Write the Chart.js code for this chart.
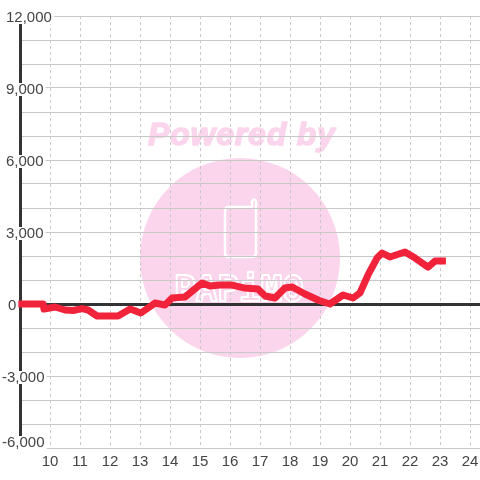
<!DOCTYPE html>
<html>
<head>
<meta charset="utf-8">
<title>chart</title>
<style>
    html, body { margin: 0; padding: 0; background: #fff; }
    canvas { display: block; }
</style>
<script src="https://cdn.jsdelivr.net/npm/chart.js@4/dist/chart.umd.min.js"></script>
</head>
<body>
<canvas id="slumpChart" width="480" height="480"></canvas>
<script>
// Values
const hours = [9, 9.77, 9.8, 10.17, 10.5, 10.77, 11.07, 11.27, 11.57, 12.27, 12.67, 13.03, 13.5, 13.83, 14.07, 14.5, 15.07, 15.33, 15.67, 16.07, 16.5, 16.93, 17.17, 17.5, 17.83, 18.07, 18.5, 18.97, 19.33, 19.77, 20.1, 20.33, 20.6, 20.9, 21.07, 21.33, 21.83, 22.17, 22.6, 22.83, 23.08];
const balance = [0, 0, -210, -125, -250, -270, -190, -250, -500, -500, -210, -375, 40, -40, 250, 290, 875, 750, 790, 790, 665, 625, 335, 250, 665, 710, 415, 145, 0, 375, 250, 460, 1210, 1915, 2125, 1960, 2165, 1915, 1540, 1790, 1790];
const hourTicks = [10, 11, 12, 13, 14, 15, 16, 17, 18, 19, 20, 21, 22, 23, 24];
const labelledValues = [12000, 9000, 6000, 3000, 0, -3000, -6000];

const GRID = '#c8c8c8';
const DARK = '#333333';
const TEXT = '#444444';
const FONT = '15px "Liberation Sans"';

const fmt = v => v.toLocaleString('en-US');

// Faded logo behind the grid
const watermark = {
    id: 'watermark',
    beforeDraw(chart) {
        const ctx = chart.ctx;
        ctx.save();
        ctx.fillStyle = '#fbd5ec';
        ctx.beginPath();
        ctx.arc(240, 258, 100, 0, Math.PI * 2);
        ctx.fill();

        ctx.font = 'italic bold 32px "Liberation Sans"';
        ctx.letterSpacing = '0.8px';
        ctx.textAlign = 'left';
        ctx.textBaseline = 'alphabetic';
        ctx.strokeStyle = '#fbd5ec';
        ctx.lineWidth = 1.5;
        ctx.lineJoin = 'round';
        ctx.fillText('Powered by', 148, 145);
        ctx.strokeText('Powered by', 148, 145);
        ctx.letterSpacing = '0px';

        // phone outline
        ctx.strokeStyle = '#ffffff';
        ctx.lineWidth = 2.5;
        ctx.beginPath();
        ctx.moveTo(252, 207);
        ctx.lineTo(229, 207);
        ctx.quadraticCurveTo(225, 207, 225, 211);
        ctx.lineTo(225, 253);
        ctx.quadraticCurveTo(225, 257, 229, 257);
        ctx.lineTo(252, 257);
        ctx.quadraticCurveTo(256, 257, 256, 253);
        ctx.lineTo(256, 201);
        ctx.quadraticCurveTo(254, 198, 252, 201);
        ctx.closePath();
        ctx.stroke();

        ctx.lineWidth = 2;
        ctx.font = 'bold 36px "DejaVu Sans Mono"';
        ctx.strokeText('PAPiMO', 174, 301);
        ctx.restore();
    }
};

// Value labels sit on a white patch that cuts the axis and the grid lines
const valueLabels = {
    id: 'valueLabels',
    afterDatasetsDraw(chart) {
        const ctx = chart.ctx;
        const y = chart.scales.y;
        const lowest = labelledValues[labelledValues.length - 1];
        ctx.save();
        ctx.font = FONT;
        ctx.textAlign = 'left';
        ctx.textBaseline = 'middle';
        labelledValues.forEach(v => {
            const text = fmt(v);
            const left = v < 0 ? 2 : (v === 0 ? 8 : 6);
            let mid = y.getPixelForValue(v) + 1.5;
            if (v === lowest) mid -= 7;
            const w = ctx.measureText(text).width;
            ctx.fillStyle = '#ffffff';
            ctx.fillRect(left - 1, mid - 6.5, w + 3, 13);
            if (v === lowest) ctx.fillRect(left - 1, mid, w + 3, 7);
            ctx.fillStyle = TEXT;
            ctx.fillText(text, left, mid);
        });
        ctx.restore();
    }
};

new Chart(document.getElementById('slumpChart').getContext('2d'), {
    type: 'line',
    data: {
        datasets: [{
            data: hours.map((h, i) => ({ x: h, y: balance[i] })),
            borderColor: '#f0233a',
            borderWidth: 7,
            borderCapStyle: 'square',
            borderJoinStyle: 'round',
            tension: 0,
            pointRadius: 0,
            clip: false
        }]
    },
    options: {
        responsive: false,
        animation: false,
        layout: { padding: { left: 20, top: 16, right: 0, bottom: 0 } },
        plugins: { legend: { display: false }, tooltip: { enabled: false } },
        scales: {
            x: {
                type: 'linear',
                min: 9,
                max: 24.333,
                afterBuildTicks: axis => { axis.ticks = hourTicks.map(value => ({ value })); },
                afterFit: axis => { axis.height = 32; axis.paddingLeft = 0; axis.paddingRight = 0; },
                border: { display: false, dash: [3, 3] },
                grid: { color: GRID, lineWidth: 1, drawTicks: false },
                ticks: {
                    color: TEXT,
                    font: { family: 'Liberation Sans', size: 15 },
                    padding: 5,
                    maxRotation: 0,
                    autoSkip: false,
                    callback: v => String(v)
                }
            },
            y: {
                min: -6000,
                max: 12000,
                afterFit: axis => { axis.width = 0; axis.paddingTop = 0; axis.paddingBottom = 0; },
                border: { display: true, color: DARK, width: 3 },
                grid: {
                    drawTicks: false,
                    color: c => (c.tick.value === 0 ? DARK : GRID),
                    lineWidth: c => (c.tick.value === 0 ? 3 : 1)
                },
                ticks: { stepSize: 1000, display: false }
            }
        }
    },
    plugins: [watermark, valueLabels]
});
</script>
</body>
</html>
